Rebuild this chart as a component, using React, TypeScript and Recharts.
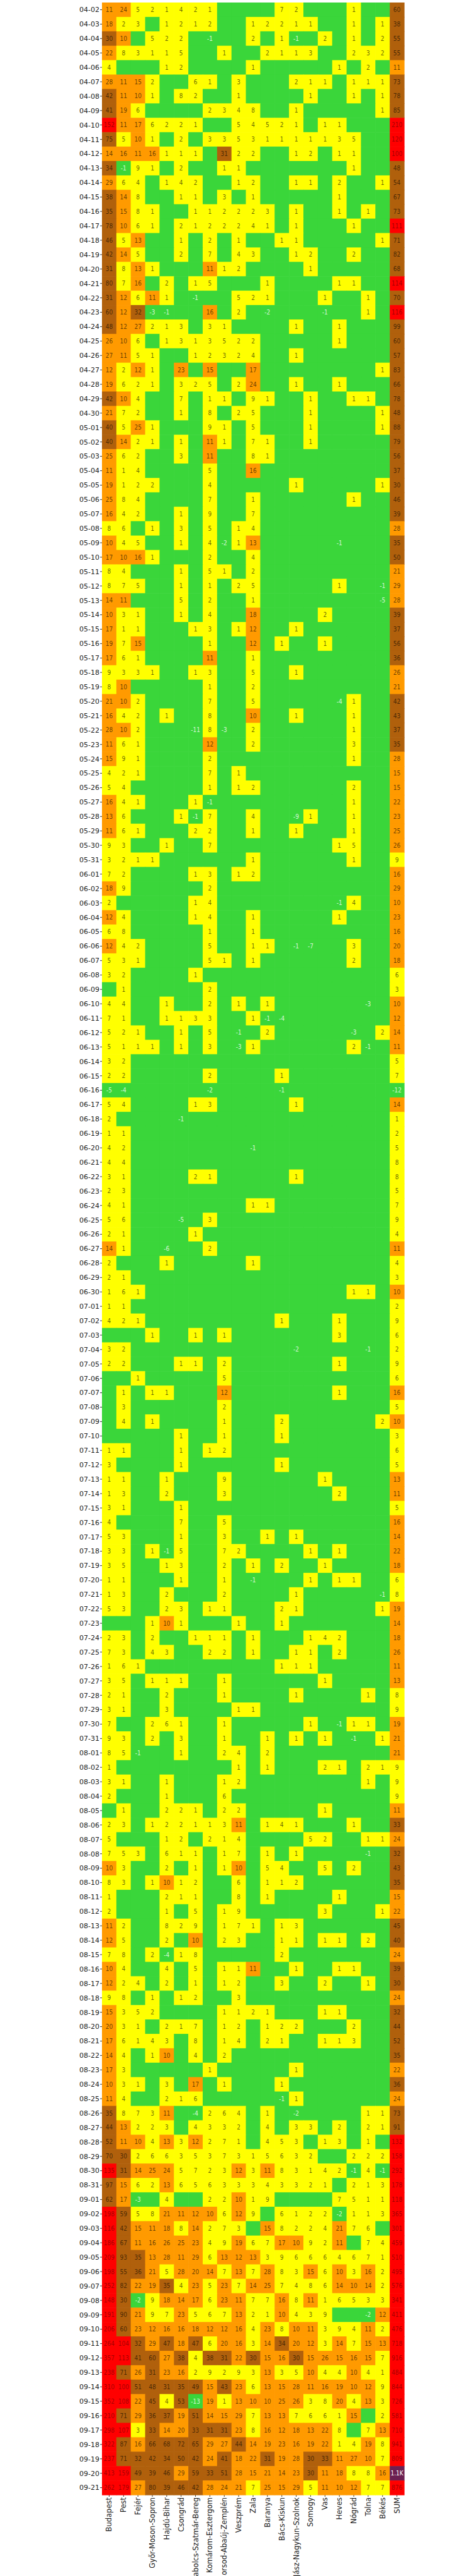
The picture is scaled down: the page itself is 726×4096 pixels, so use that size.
import { ScatterChart, Scatter, XAxis, YAxis } from 'recharts'

// column order as in the chart, SUM last
const COLUMNS = [
  'Budapest', 'Pest', 'Fejér', 'Győr-Moson-Sopron', 'Hajdú-Bihar', 'Csongrád',
  'Szabolcs-Szatmár-Bereg', 'Komárom-Esztergom', 'Borsod-Abaúj-Zemplén', 'Veszprém',
  'Zala', 'Baranya', 'Bács-Kiskun', 'Jász-Nagykun-Szolnok', 'Somogy', 'Vas',
  'Heves', 'Nógrád', 'Tolna', 'Békés', 'SUM',
]

// daily new cases per county, one row per day, last value = SUM
const APRIL = [
  [11, 24, 5, 2, 1, 4, 2, 1, 0, 0, 0, 0, 7, 2, 0, 0, 0, 1, 0, 0, 60],
  [18, 2, 3, 0, 1, 2, 1, 2, 0, 0, 1, 2, 2, 1, 1, 0, 0, 1, 0, 1, 38],
  [30, 10, 0, 5, 2, 2, 0, -1, 0, 0, 2, 0, 1, -1, 0, 2, 0, 1, 0, 2, 55],
  [22, 8, 3, 1, 1, 5, 0, 0, 1, 0, 0, 2, 1, 1, 3, 0, 0, 2, 3, 2, 55],
  [4, 0, 0, 0, 1, 2, 0, 0, 0, 0, 1, 0, 0, 0, 0, 0, 1, 0, 2, 0, 11],
  [28, 11, 15, 2, 0, 0, 6, 1, 0, 3, 0, 0, 0, 2, 1, 1, 0, 1, 1, 1, 73],
  [42, 11, 10, 1, 0, 8, 2, 0, 0, 1, 0, 0, 0, 0, 1, 0, 0, 1, 0, 1, 78],
  [41, 19, 6, 0, 0, 0, 0, 2, 3, 4, 8, 0, 0, 1, 0, 0, 0, 0, 0, 1, 85],
  [152, 11, 17, 6, 2, 2, 1, 0, 0, 5, 4, 5, 2, 1, 0, 1, 1, 0, 0, 0, 210],
  [75, 5, 10, 1, 0, 2, 0, 3, 3, 5, 3, 1, 1, 1, 1, 1, 3, 5, 0, 0, 120],
  [14, 16, 11, 16, 1, 1, 1, 0, 31, 2, 2, 0, 0, 1, 2, 0, 1, 1, 0, 0, 100],
  [34, -1, 9, 1, 0, 2, 0, 0, 1, 1, 0, 0, 0, 0, 0, 0, 0, 1, 0, 0, 48],
  [29, 6, 4, 0, 1, 4, 2, 0, 0, 1, 2, 0, 0, 1, 1, 0, 2, 0, 0, 1, 54],
  [38, 14, 8, 0, 0, 1, 1, 0, 3, 0, 1, 0, 0, 0, 0, 0, 1, 0, 0, 0, 67],
  [35, 15, 8, 1, 0, 0, 1, 1, 2, 2, 2, 3, 0, 1, 0, 0, 1, 0, 1, 0, 73],
  [78, 10, 6, 1, 0, 2, 1, 2, 2, 2, 4, 1, 0, 1, 0, 0, 0, 1, 0, 0, 111],
  [46, 5, 13, 0, 0, 1, 0, 2, 0, 1, 0, 0, 1, 1, 0, 0, 0, 0, 0, 1, 71],
  [42, 14, 5, 0, 0, 2, 0, 7, 0, 4, 3, 0, 0, 1, 2, 0, 0, 2, 0, 0, 82],
  [31, 8, 13, 1, 0, 0, 0, 11, 1, 2, 0, 0, 0, 0, 1, 0, 0, 0, 0, 0, 68],
  [80, 7, 16, 0, 2, 0, 1, 5, 0, 0, 0, 1, 0, 0, 0, 0, 1, 1, 0, 0, 114],
  [31, 12, 6, 11, 1, 0, -1, 0, 0, 5, 2, 1, 0, 0, 0, 1, 0, 0, 1, 0, 70],
  [60, 12, 32, -3, -1, 0, 0, 16, 0, 2, 0, -2, 0, 0, 0, -1, 0, 0, 1, 0, 116],
  [48, 12, 27, 2, 1, 3, 0, 3, 1, 0, 0, 0, 0, 1, 0, 0, 1, 0, 0, 0, 99],
  [26, 10, 6, 0, 1, 3, 1, 3, 5, 2, 2, 0, 0, 0, 0, 0, 1, 0, 0, 0, 60],
  [27, 11, 5, 1, 0, 0, 1, 2, 3, 2, 4, 0, 0, 1, 0, 0, 0, 0, 0, 0, 57],
  [12, 2, 12, 1, 0, 23, 0, 15, 0, 0, 17, 0, 0, 0, 0, 0, 0, 0, 0, 1, 83],
  [19, 6, 2, 1, 0, 3, 2, 5, 0, 2, 24, 0, 0, 1, 0, 0, 1, 0, 0, 0, 66],
  [42, 10, 4, 0, 0, 7, 0, 1, 1, 0, 9, 1, 0, 0, 1, 0, 0, 1, 1, 0, 78],
  [21, 7, 2, 0, 0, 1, 0, 8, 0, 2, 5, 0, 0, 0, 1, 0, 0, 0, 0, 1, 48],
]

const MAY = [
  [40, 5, 25, 1, 0, 0, 0, 9, 1, 0, 5, 0, 0, 0, 1, 0, 0, 0, 0, 1, 88],
  [40, 14, 2, 1, 0, 1, 0, 11, 1, 0, 7, 1, 0, 0, 1, 0, 0, 0, 0, 0, 79],
  [25, 6, 2, 0, 0, 3, 0, 11, 0, 0, 8, 1, 0, 0, 0, 0, 0, 0, 0, 0, 56],
  [11, 1, 4, 0, 0, 0, 0, 5, 0, 0, 16, 0, 0, 0, 0, 0, 0, 0, 0, 0, 37],
  [19, 1, 2, 2, 0, 0, 0, 4, 0, 0, 0, 0, 0, 1, 0, 0, 0, 0, 0, 1, 30],
  [25, 8, 4, 0, 0, 0, 0, 7, 0, 0, 1, 0, 0, 0, 0, 0, 0, 1, 0, 0, 46],
  [16, 4, 2, 0, 0, 1, 0, 9, 0, 0, 7, 0, 0, 0, 0, 0, 0, 0, 0, 0, 39],
  [8, 6, 0, 1, 0, 3, 0, 5, 0, 1, 4, 0, 0, 0, 0, 0, 0, 0, 0, 0, 28],
  [10, 4, 5, 0, 0, 1, 0, 4, -2, 1, 13, 0, 0, 0, 0, 0, -1, 0, 0, 0, 35],
  [17, 10, 16, 1, 0, 0, 0, 2, 0, 0, 4, 0, 0, 0, 0, 0, 0, 0, 0, 0, 50],
  [8, 4, 0, 0, 0, 1, 0, 5, 1, 0, 2, 0, 0, 0, 0, 0, 0, 0, 0, 0, 21],
  [8, 7, 5, 0, 0, 1, 0, 1, 0, 2, 5, 0, 0, 0, 0, 0, 1, 0, 0, -1, 29],
  [14, 11, 0, 0, 0, 5, 0, 2, 0, 0, 1, 0, 0, 0, 0, 0, 0, 0, 0, -5, 28],
  [10, 3, 1, 0, 0, 1, 0, 4, 0, 0, 18, 0, 0, 0, 0, 2, 0, 0, 0, 0, 39],
  [17, 1, 1, 0, 0, 0, 1, 3, 0, 1, 12, 0, 0, 1, 0, 0, 0, 0, 0, 0, 37],
  [19, 7, 15, 0, 0, 0, 0, 1, 0, 0, 12, 0, 1, 0, 0, 1, 0, 0, 0, 0, 56],
  [17, 6, 1, 0, 0, 0, 0, 11, 0, 0, 1, 0, 0, 0, 0, 0, 0, 0, 0, 0, 36],
  [9, 3, 3, 1, 0, 0, 1, 3, 0, 0, 5, 0, 0, 1, 0, 0, 0, 0, 0, 0, 26],
  [8, 10, 0, 0, 0, 0, 0, 1, 0, 0, 2, 0, 0, 0, 0, 0, 0, 0, 0, 0, 21],
  [21, 10, 2, 0, 0, 0, 0, 7, 0, 0, 5, 0, 0, 0, 0, 0, -4, 1, 0, 0, 42],
  [16, 4, 2, 0, 1, 0, 0, 8, 0, 0, 10, 0, 0, 1, 0, 0, 0, 1, 0, 0, 43],
  [28, 10, 2, 0, 0, 0, -11, 8, -3, 0, 2, 0, 0, 0, 0, 0, 0, 1, 0, 0, 37],
  [11, 6, 1, 0, 0, 0, 0, 12, 0, 0, 2, 0, 0, 0, 0, 0, 0, 3, 0, 0, 35],
  [15, 9, 1, 0, 0, 0, 0, 2, 0, 0, 0, 0, 0, 0, 0, 0, 0, 1, 0, 0, 28],
  [4, 2, 1, 0, 0, 0, 0, 7, 0, 1, 0, 0, 0, 0, 0, 0, 0, 0, 0, 0, 15],
  [5, 4, 0, 0, 0, 0, 0, 1, 0, 1, 2, 0, 0, 0, 0, 0, 0, 2, 0, 0, 15],
  [16, 4, 1, 0, 0, 0, 1, -1, 0, 0, 0, 0, 0, 0, 0, 0, 0, 1, 0, 0, 22],
  [13, 6, 0, 0, 0, 1, -1, 7, 0, 0, 4, 0, 0, -9, 1, 0, 0, 1, 0, 0, 23],
  [11, 6, 1, 0, 0, 0, 2, 2, 0, 0, 1, 0, 0, 1, 0, 0, 0, 1, 0, 0, 25],
  [9, 3, 0, 0, 1, 0, 0, 7, 0, 0, 0, 0, 0, 0, 0, 0, 1, 5, 0, 0, 26],
  [3, 2, 1, 1, 0, 0, 0, 0, 0, 0, 1, 0, 0, 0, 0, 0, 0, 1, 0, 0, 9],
]

const JUNE = [
  [7, 2, 0, 0, 0, 0, 1, 3, 0, 1, 2, 0, 0, 0, 0, 0, 0, 0, 0, 0, 16],
  [18, 9, 0, 0, 0, 0, 0, 2, 0, 0, 0, 0, 0, 0, 0, 0, 0, 0, 0, 0, 29],
  [2, 0, 0, 0, 0, 0, 1, 4, 0, 0, 0, 0, 0, 0, 0, 0, -1, 4, 0, 0, 10],
  [12, 4, 0, 0, 0, 0, 1, 4, 0, 0, 1, 0, 0, 0, 0, 0, 1, 0, 0, 0, 23],
  [6, 8, 0, 0, 0, 0, 0, 1, 0, 0, 1, 0, 0, 0, 0, 0, 0, 0, 0, 0, 16],
  [12, 4, 2, 0, 0, 0, 0, 5, 0, 0, 1, 1, 0, -1, -7, 0, 0, 3, 0, 0, 20],
  [5, 3, 1, 0, 0, 0, 0, 5, 1, 0, 1, 0, 0, 0, 0, 0, 0, 2, 0, 0, 18],
  [3, 2, 0, 0, 0, 0, 1, 0, 0, 0, 0, 0, 0, 0, 0, 0, 0, 0, 0, 0, 6],
  [0, 1, 0, 0, 0, 0, 0, 2, 0, 0, 0, 0, 0, 0, 0, 0, 0, 0, 0, 0, 3],
  [4, 4, 0, 0, 1, 0, 0, 2, 0, 1, 0, 1, 0, 0, 0, 0, 0, 0, -3, 0, 10],
  [7, 1, 0, 0, 1, 1, 3, 3, 0, 0, 1, -1, -4, 0, 0, 0, 0, 0, 0, 0, 12],
  [5, 2, 1, 0, 0, 1, 0, 5, 0, -1, 0, 2, 0, 0, 0, 0, 0, -3, 0, 2, 14],
  [5, 1, 1, 1, 0, 1, 0, 3, 0, -3, 1, 0, 0, 0, 0, 0, 0, 2, -1, 0, 11],
  [3, 2, 0, 0, 0, 0, 0, 0, 0, 0, 0, 0, 0, 0, 0, 0, 0, 0, 0, 0, 5],
  [2, 2, 0, 0, 0, 0, 0, 2, 0, 0, 0, 0, 1, 0, 0, 0, 0, 0, 0, 0, 7],
  [-5, -4, 0, 0, 0, 0, 0, -2, 0, 0, 0, 0, -1, 0, 0, 0, 0, 0, 0, 0, -12],
  [5, 4, 0, 0, 0, 0, 1, 3, 0, 0, 0, 0, 0, 1, 0, 0, 0, 0, 0, 0, 14],
  [2, 0, 0, 0, 0, -1, 0, 0, 0, 0, 0, 0, 0, 0, 0, 0, 0, 0, 0, 0, 1],
  [1, 1, 0, 0, 0, 0, 0, 0, 0, 0, 0, 0, 0, 0, 0, 0, 0, 0, 0, 0, 2],
  [4, 2, 0, 0, 0, 0, 0, 0, 0, 0, -1, 0, 0, 0, 0, 0, 0, 0, 0, 0, 5],
  [4, 4, 0, 0, 0, 0, 0, 0, 0, 0, 0, 0, 0, 0, 0, 0, 0, 0, 0, 0, 8],
  [3, 1, 0, 0, 0, 0, 2, 1, 0, 0, 0, 0, 0, 1, 0, 0, 0, 0, 0, 0, 8],
  [2, 3, 0, 0, 0, 0, 0, 0, 0, 0, 0, 0, 0, 0, 0, 0, 0, 0, 0, 0, 5],
  [4, 1, 0, 0, 0, 0, 0, 0, 0, 0, 1, 1, 0, 0, 0, 0, 0, 0, 0, 0, 7],
  [5, 6, 0, 0, 0, -5, 0, 3, 0, 0, 0, 0, 0, 0, 0, 0, 0, 0, 0, 0, 9],
  [2, 1, 0, 0, 0, 0, 1, 0, 0, 0, 0, 0, 0, 0, 0, 0, 0, 0, 0, 0, 4],
  [14, 1, 0, 0, -6, 0, 0, 2, 0, 0, 0, 0, 0, 0, 0, 0, 0, 0, 0, 0, 11],
  [2, 0, 0, 0, 1, 0, 0, 0, 0, 0, 1, 0, 0, 0, 0, 0, 0, 0, 0, 0, 4],
  [2, 1, 0, 0, 0, 0, 0, 0, 0, 0, 0, 0, 0, 0, 0, 0, 0, 0, 0, 0, 3],
  [1, 6, 1, 0, 0, 0, 0, 0, 0, 0, 0, 0, 0, 0, 0, 0, 0, 1, 1, 0, 10],
]

const JULY = [
  [1, 1, 0, 0, 0, 0, 0, 0, 0, 0, 0, 0, 0, 0, 0, 0, 0, 0, 0, 0, 2],
  [4, 2, 1, 0, 0, 0, 0, 0, 0, 0, 0, 0, 1, 0, 0, 0, 1, 0, 0, 0, 9],
  [0, 0, 0, 1, 0, 0, 1, 0, 1, 0, 0, 0, 0, 0, 0, 0, 3, 0, 0, 0, 6],
  [3, 2, 0, 0, 0, 0, 0, 0, 0, 0, 0, 0, 0, -2, 0, 0, 0, 0, -1, 0, 2],
  [2, 2, 0, 0, 0, 1, 1, 0, 2, 0, 0, 0, 0, 0, 0, 0, 1, 0, 0, 0, 9],
  [0, 0, 1, 0, 0, 0, 0, 0, 5, 0, 0, 0, 0, 0, 0, 0, 0, 0, 0, 0, 6],
  [0, 1, 0, 1, 1, 0, 0, 0, 12, 0, 0, 0, 0, 0, 0, 0, 1, 0, 0, 0, 16],
  [0, 3, 0, 0, 0, 0, 0, 0, 2, 0, 0, 0, 0, 0, 0, 0, 0, 0, 0, 0, 5],
  [0, 4, 0, 1, 0, 0, 0, 0, 1, 0, 0, 0, 2, 0, 0, 0, 0, 0, 0, 2, 10],
  [0, 0, 0, 0, 0, 1, 0, 0, 1, 0, 0, 0, 1, 0, 0, 0, 0, 0, 0, 0, 3],
  [1, 1, 0, 0, 0, 1, 0, 1, 2, 0, 0, 0, 0, 0, 0, 0, 0, 0, 0, 0, 6],
  [3, 0, 0, 0, 0, 1, 0, 0, 0, 0, 0, 0, 1, 0, 0, 0, 0, 0, 0, 0, 5],
  [1, 1, 0, 0, 1, 0, 0, 0, 9, 0, 0, 0, 0, 0, 0, 1, 0, 0, 0, 0, 13],
  [1, 3, 0, 0, 2, 0, 0, 0, 3, 0, 0, 0, 0, 0, 0, 0, 2, 0, 0, 0, 11],
  [3, 1, 0, 0, 0, 1, 0, 0, 0, 0, 0, 0, 0, 0, 0, 0, 0, 0, 0, 0, 5],
  [4, 0, 0, 0, 0, 7, 0, 0, 5, 0, 0, 0, 0, 0, 0, 0, 0, 0, 0, 0, 16],
  [5, 3, 0, 0, 0, 1, 0, 0, 3, 0, 0, 1, 0, 1, 0, 0, 0, 0, 0, 0, 14],
  [3, 3, 0, 1, -1, 5, 0, 0, 7, 2, 0, 0, 0, 0, 1, 0, 1, 0, 0, 0, 22],
  [3, 5, 0, 0, 1, 3, 0, 0, 2, 0, 1, 0, 2, 0, 0, 1, 0, 0, 0, 0, 18],
  [1, 1, 0, 0, 0, 1, 0, 0, 1, 0, -1, 0, 0, 0, 1, 0, 1, 1, 0, 0, 6],
  [1, 3, 0, 0, 2, 0, 0, 0, 2, 0, 0, 0, 0, 1, 0, 0, 0, 0, 0, -1, 8],
  [5, 3, 0, 0, 2, 3, 0, 1, 1, 0, 0, 0, 2, 1, 0, 0, 0, 0, 0, 1, 19],
  [0, 0, 0, 1, 10, 1, 0, 0, 0, 1, 0, 0, 1, 0, 0, 0, 0, 0, 0, 0, 14],
  [2, 3, 0, 2, 0, 0, 1, 1, 1, 0, 1, 0, 0, 0, 1, 4, 2, 0, 0, 0, 18],
  [7, 3, 0, 4, 3, 0, 0, 2, 2, 0, 1, 0, 0, 1, 1, 0, 2, 0, 0, 0, 26],
  [1, 6, 1, 0, 0, 0, 0, 0, 0, 0, 0, 0, 1, 1, 1, 0, 0, 0, 0, 0, 11],
  [3, 5, 0, 1, 1, 1, 0, 0, 1, 0, 0, 0, 0, 0, 0, 1, 0, 0, 0, 0, 13],
  [2, 1, 0, 0, 2, 0, 0, 0, 1, 0, 0, 0, 0, 1, 0, 0, 0, 0, 1, 0, 8],
  [3, 1, 0, 0, 3, 0, 0, 0, 0, 1, 1, 0, 0, 0, 0, 0, 0, 0, 0, 0, 9],
  [7, 0, 0, 2, 6, 1, 0, 0, 1, 0, 0, 0, 0, 0, 1, 0, -1, 1, 1, 0, 19],
  [9, 3, 0, 2, 0, 3, 0, 0, 1, 0, 0, 1, 0, 1, 0, 1, 0, -1, 0, 1, 21],
]

const AUGUST = [
  [8, 5, -1, 0, 0, 1, 0, 0, 2, 4, 0, 2, 0, 0, 0, 0, 0, 0, 0, 0, 21],
  [1, 0, 0, 0, 0, 0, 0, 0, 0, 1, 0, 1, 0, 0, 0, 2, 1, 0, 2, 1, 9],
  [3, 1, 0, 0, 1, 0, 0, 0, 1, 2, 0, 0, 0, 0, 0, 0, 0, 0, 1, 0, 9],
  [2, 0, 0, 0, 1, 0, 0, 0, 6, 0, 0, 0, 0, 0, 0, 0, 0, 0, 0, 0, 9],
  [0, 1, 0, 0, 2, 2, 1, 0, 2, 2, 0, 0, 0, 0, 0, 1, 0, 0, 0, 0, 11],
  [2, 3, 0, 1, 2, 2, 1, 1, 3, 11, 0, 1, 4, 1, 0, 0, 0, 1, 0, 0, 33],
  [5, 0, 0, 0, 1, 2, 0, 2, 1, 4, 0, 0, 0, 0, 5, 2, 0, 0, 1, 1, 24],
  [7, 5, 3, 0, 6, 1, 1, 0, 1, 7, 0, 1, 0, 1, 0, 0, 0, 0, -1, 0, 32],
  [10, 3, 0, 0, 2, 0, 1, 0, 1, 10, 0, 5, 4, 0, 0, 5, 0, 2, 0, 0, 43],
  [8, 3, 0, 1, 10, 1, 2, 0, 0, 6, 0, 1, 1, 2, 0, 0, 0, 0, 0, 0, 35],
  [1, 0, 0, 0, 2, 1, 1, 0, 0, 8, 0, 1, 0, 0, 0, 0, 1, 0, 0, 0, 15],
  [2, 0, 0, 0, 1, 0, 5, 0, 1, 9, 0, 0, 0, 0, 0, 3, 0, 0, 0, 1, 22],
  [11, 2, 0, 0, 8, 2, 9, 0, 1, 7, 1, 0, 1, 3, 0, 0, 0, 0, 0, 0, 45],
  [12, 5, 0, 0, 2, 0, 10, 0, 2, 3, 0, 0, 1, 1, 0, 1, 1, 0, 2, 0, 40],
  [7, 8, 0, 2, -4, 1, 8, 0, 0, 0, 0, 0, 2, 0, 0, 0, 0, 0, 0, 0, 24],
  [10, 4, 0, 0, 4, 0, 5, 0, 1, 1, 11, 0, 0, 1, 0, 0, 1, 1, 0, 0, 39],
  [12, 2, 4, 0, 2, 0, 1, 0, 1, 2, 0, 0, 3, 0, 0, 2, 0, 0, 1, 0, 30],
  [9, 8, 0, 1, 0, 1, 2, 0, 0, 3, 0, 0, 0, 0, 0, 0, 0, 0, 0, 0, 24],
  [15, 3, 5, 2, 0, 0, 0, 0, 1, 1, 2, 1, 0, 0, 0, 1, 1, 0, 0, 0, 32],
  [20, 3, 1, 0, 2, 1, 7, 0, 1, 2, 0, 1, 2, 2, 0, 0, 0, 2, 0, 0, 44],
  [17, 6, 1, 4, 3, 0, 8, 0, 1, 4, 0, 2, 1, 0, 0, 1, 1, 3, 0, 0, 52],
  [14, 4, 0, 1, 10, 0, 4, 0, 2, 0, 0, 0, 0, 0, 0, 0, 0, 0, 0, 0, 35],
  [17, 3, 0, 0, 0, 0, 0, 1, 0, 0, 0, 0, 0, 1, 0, 0, 0, 0, 0, 0, 22],
  [10, 3, 1, 0, 3, 0, 17, 0, 1, 0, 0, 0, 1, 0, 0, 0, 0, 0, 0, 0, 36],
  [11, 4, 0, 0, 2, 1, 6, 0, 0, 0, 0, 0, -1, 1, 0, 0, 0, 0, 0, 0, 24],
  [35, 8, 7, 3, 11, 0, -4, 2, 6, 4, 0, 1, 0, -2, 0, 0, 0, 0, 1, 1, 73],
  [44, 13, 2, 2, 3, 0, 4, 3, 3, 2, 0, 4, 0, 3, 3, 0, 2, 0, 2, 1, 91],
  [52, 11, 10, 4, 13, 3, 12, 2, 7, 1, 0, 4, 5, 3, 0, 1, 3, 0, 1, 0, 132],
  [70, 30, 2, 6, 6, 3, 5, 3, 7, 3, 1, 5, 6, 3, 2, 0, 0, 2, 2, 2, 158],
  [135, 31, 14, 25, 24, 5, 7, 2, 3, 12, 3, 11, 8, 3, 1, 4, 2, -1, 4, -1, 292],
  [97, 15, 6, 2, 13, 6, 5, 6, 3, 3, 3, 4, 3, 3, 2, 1, 0, 2, 1, 3, 178],
]

const SEPTEMBER = [
  [62, 17, -3, 0, 4, 0, 0, 2, 2, 10, 1, 9, 0, 0, 0, 0, 7, 5, 1, 1, 118],
  [198, 59, 5, 8, 21, 11, 12, 10, 6, 12, 9, 0, 6, 1, 2, 2, -2, 1, 1, 3, 365],
  [116, 42, 15, 11, 18, 8, 14, 2, 7, 3, 0, 15, 8, 2, 2, 4, 21, 7, 6, 0, 301],
  [186, 67, 11, 16, 26, 25, 23, 4, 9, 19, 6, 7, 17, 10, 9, 2, 11, 0, 7, 4, 459],
  [209, 93, 35, 13, 28, 11, 29, 6, 13, 12, 13, 3, 9, 6, 6, 6, 4, 6, 7, 1, 510],
  [198, 55, 36, 21, 5, 28, 20, 14, 7, 13, 7, 28, 8, 3, 15, 6, 10, 3, 16, 2, 495],
  [252, 82, 22, 19, 35, 4, 23, 5, 23, 7, 14, 25, 7, 4, 8, 6, 14, 10, 14, 2, 576],
  [148, 30, -2, 9, 18, 14, 17, 6, 23, 11, 7, 7, 16, 8, 11, 1, 6, 5, 3, 3, 341],
  [191, 90, 21, 9, 7, 23, 5, 6, 7, 13, 2, 1, 10, 4, 3, 9, 0, 0, -2, 12, 411],
  [206, 60, 23, 12, 16, 16, 18, 12, 12, 16, 4, 23, 8, 10, 11, 3, 9, 4, 11, 2, 476],
  [264, 104, 32, 29, 47, 18, 47, 6, 20, 16, 3, 14, 34, 20, 12, 3, 14, 7, 15, 13, 718],
  [357, 113, 41, 60, 27, 38, 4, 38, 31, 22, 30, 15, 16, 30, 15, 26, 15, 16, 15, 7, 916],
  [238, 71, 26, 31, 23, 16, 2, 9, 2, 9, 3, 13, 3, 5, 10, 4, 4, 10, 4, 1, 484],
  [310, 100, 51, 48, 31, 35, 49, 15, 43, 23, 6, 13, 15, 28, 11, 16, 19, 10, 12, 9, 844],
  [352, 108, 22, 45, 4, 53, -13, 19, 1, 13, 10, 10, 25, 26, 3, 8, 20, 4, 13, 3, 726],
  [210, 71, 29, 36, 37, 19, 51, 14, 15, 29, 7, 13, 13, 7, 6, 6, 1, 15, 0, 2, 581],
  [298, 107, 3, 33, 14, 20, 33, 31, 31, 23, 8, 16, 12, 18, 13, 22, 8, 0, 7, 13, 710],
  [322, 87, 16, 66, 68, 72, 65, 29, 27, 44, 14, 19, 23, 16, 19, 22, 1, 4, 19, 8, 941],
  [237, 71, 32, 42, 34, 50, 42, 24, 41, 18, 22, 31, 19, 28, 30, 33, 11, 27, 10, 7, 809],
  [413, 159, 49, 39, 46, 29, 59, 33, 51, 28, 15, 21, 14, 23, 30, 11, 18, 8, 8, 16, 1070],
  [262, 179, 27, 80, 39, 46, 42, 28, 24, 21, 7, 25, 15, 29, 5, 11, 10, 12, 7, 7, 876],
]

// month label, first day shown, rows
const MONTHS: [string, number, number[][]][] = [
  ['04', 2, APRIL],
  ['05', 1, MAY],
  ['06', 1, JUNE],
  ['07', 1, JULY],
  ['08', 1, AUGUST],
  ['09', 1, SEPTEMBER],
]

const DATES = MONTHS.flatMap(([m, first, rows]) =>
  rows.map((_, i) => `${m}-${String(first + i).padStart(2, '0')}`)
)
const ROWS = MONTHS.flatMap(([, , rows]) => rows)

const cells = ROWS.flatMap((row, r) => row.map((v, c) => ({ col: c, row: r, v })))

const W = 726
const H = 4096
const LEFT = 162
const RIGHT = 84
const TOP = 4
const BOTTOM = 129
const CW = (W - LEFT - RIGHT) / COLUMNS.length
const CH = (H - TOP - BOTTOM) / DATES.length
const FONT = "'DejaVu Sans Condensed', 'DejaVu Sans', sans-serif"

function cellColor(v: number) {
  if (v <= 0) return '#3ad63a'
  if (v < 10) return '#ffff00'
  if (v < 30) return '#ff9a00'
  if (v < 100) return '#b0600c'
  if (v < 1000) return '#ff0000'
  return '#6c2052'
}

function fmt(v: number) {
  if (v >= 1000) return (v / 1000).toFixed(1) + 'K'
  return String(v)
}

function HeatCell(props: any) {
  const { cx, cy, payload } = props
  const v: number = payload.v
  let textFill = 'rgba(0,0,0,0.62)'
  if (v <= 0) textFill = 'rgba(255,255,255,0.8)'
  else if (v >= 1000) textFill = '#ffffff'
  else if (v >= 100) textFill = 'rgba(0,0,0,0.4)'
  return (
    <g>
      <rect x={cx - CW / 2} y={cy - CH / 2} width={CW + 0.6} height={CH + 0.6} fill={cellColor(v)} />
      {v !== 0 && (
        <text x={cx} y={cy} dy="0.36em" textAnchor="middle" fontSize={10} fontFamily={FONT} fill={textFill}>
          {fmt(v)}
        </text>
      )}
    </g>
  )
}

function ColumnTick(props: any) {
  const { x, y, payload } = props
  return (
    <text
      transform={`translate(${x},${y}) rotate(-90)`}
      textAnchor="end"
      dy="0.35em"
      fontSize={11.5}
      fontFamily="'DejaVu Sans', sans-serif"
      fill="#222"
    >
      {COLUMNS[payload.value]}
    </text>
  )
}

export default function App() {
  return (
    <div style={{ position: 'absolute', left: 0, top: 0, background: '#fff' }}>
      <ScatterChart width={W} height={H} margin={{ top: TOP, right: RIGHT, bottom: 0, left: 0 }}>
        <XAxis
          type="number"
          dataKey="col"
          domain={[-0.5, COLUMNS.length - 0.5]}
          ticks={COLUMNS.map((_, i) => i)}
          interval={0}
          height={BOTTOM}
          axisLine={false}
          tickSize={3}
          tickMargin={1}
          tickLine={{ stroke: '#333' }}
          tick={<ColumnTick />}
        />
        <YAxis
          type="number"
          dataKey="row"
          domain={[-0.5, DATES.length - 0.5]}
          reversed
          ticks={DATES.map((_, i) => i)}
          interval={0}
          width={LEFT}
          axisLine={false}
          tickSize={3}
          tickMargin={1}
          tickLine={{ stroke: '#333' }}
          tickFormatter={(i: number) => DATES[i]}
          tick={{ fontSize: 11, fontFamily: "'DejaVu Sans', sans-serif", fill: '#222' }}
        />
        <Scatter data={cells} shape={<HeatCell />} isAnimationActive={false} />
      </ScatterChart>
    </div>
  )
}
